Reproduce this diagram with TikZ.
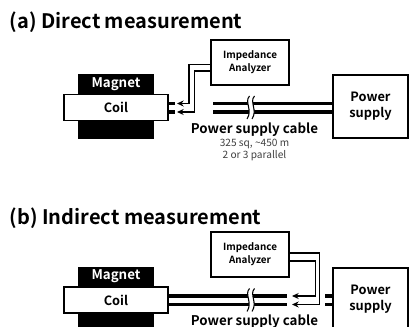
\documentclass[tikz,border=0pt]{standalone}
\usepackage{fontspec}
\setmainfont{Noto Sans CJK JP}[BoldFont={Noto Sans CJK JP Bold}]
\usetikzlibrary{arrows.meta}
\begin{document}
\begin{tikzpicture}[x=0.75pt,y=-0.75pt,
  titletext/.style={anchor=base west,inner sep=0pt,font=\fontsize{15pt}{18pt}\selectfont\bfseries},
  magnetbox/.style={fill=black,draw=none,minimum width=57pt,minimum height=48.75pt,inner sep=0pt},
  magnettext/.style={text=white,inner sep=0pt,font=\fontsize{10pt}{12pt}\selectfont\bfseries},
  coilbox/.style={draw=black,fill=white,line width=1.2pt,minimum width=78pt,minimum height=19.5pt,inner sep=0pt,font=\fontsize{9.6pt}{12pt}\selectfont\bfseries},
  analyzerbox/.style={draw=black,fill=white,line width=1.5pt,minimum width=58.5pt,minimum height=33.75pt,inner sep=0pt,align=center,font=\fontsize{7.4pt}{9.5pt}\selectfont\bfseries},
  supplybox/.style={draw=black,fill=white,line width=1.5pt,minimum width=56.25pt,minimum height=47.25pt,inner sep=0pt,align=center,font=\fontsize{9.6pt}{12pt}\selectfont\bfseries},
  cablewire/.style={line width=2.3pt,draw=black},
  signalwire/.style={line width=1pt,draw=black,-{Stealth[length=5pt,width=4.5pt]}},
  breakmark/.style={line width=0.8pt,draw=black},
  cabletext/.style={inner sep=0pt,font=\fontsize{10pt}{12pt}\selectfont\bfseries},
  spectext/.style={inner sep=0pt,align=center,text=black!75,font=\fontsize{7.6pt}{9pt}\selectfont}]
\useasboundingbox (0,0) rectangle (409,327);
\clip (0,0) rectangle (409,327);
% ---- (a)
\node[titletext] (ta) at (9.5,29) {(a) Direct measurement};
\node[magnetbox] (ma) at (116,106.5) {};
\node[magnettext] (mta) at (116,84.5) {Magnet};
\node[coilbox] (ca) at (116,107.5) {Coil};
\node[analyzerbox] (ia) at (250,62.5) {Impedance\\Analyzer};
\node[supplybox] (pa) at (370.5,106.5) {Power\\supply};
\coordinate (cu) at (ca.east |- 0,103.5);
\coordinate (cl) at (ca.east |- 0,112);
\coordinate (cuend) at (175,103.5);
\coordinate (clend) at (175,112);
\coordinate (au) at (ia.west |- 0,64.5);
\coordinate (al) at (ia.west |- 0,71);
\coordinate (atu) at (177,103.5);
\coordinate (atl) at (177,112);
\coordinate (pu) at (pa.west |- 0,103.5);
\coordinate (pl) at (pa.west |- 0,112);
\coordinate (su) at (213,103.5);
\coordinate (sl) at (213,112);
\draw[cablewire] (cu) -- (cuend);
\draw[cablewire] (cl) -- (clend);
\draw[cablewire] (su) -- (pu);
\draw[cablewire] (sl) -- (pl);
\draw[signalwire] (au) -- (189,64.5) -- (189,103.5) -- (atu);
\draw[signalwire] (al) -- (194.5,71) -- (194.5,112) -- (atl);
\fill[white] (249.5,96) .. controls (244,102) and (253,110) .. (247,119) -- (252,119) .. controls (258,110) and (249,102) .. (254.5,96) -- cycle;
\draw[breakmark] (249.5,96) .. controls (244,102) and (253,110) .. (247,119);
\draw[breakmark] (254.5,96) .. controls (249,102) and (258,110) .. (252,119);
\node[cabletext] (la) at (254.5,129.5) {Power supply cable};
\node[spectext] (sa) at (254.5,150) {325 sq, \textasciitilde450 m\\2 or 3 parallel};
% ---- (b)
\node[titletext] (tb) at (9.5,224.5) {(b) Indirect measurement};
\node[magnetbox] (mb) at (116,299.5) {};
\node[magnettext] (mtb) at (116,276.5) {Magnet};
\node[coilbox] (cb) at (116,300) {Coil};
\node[analyzerbox] (ib) at (250,254.5) {Impedance\\Analyzer};
\node[supplybox] (pb) at (370.5,299) {Power\\supply};
\coordinate (dcu) at (cb.east |- 0,296);
\coordinate (dcl) at (cb.east |- 0,304.5);
\coordinate (dcue) at (287,296);
\coordinate (dcle) at (287,304.5);
\coordinate (dpu) at (pb.west |- 0,296);
\coordinate (dpl) at (pb.west |- 0,304.5);
\coordinate (dsu) at (325,296);
\coordinate (dsl) at (325,304.5);
\coordinate (bu) at (ib.east |- 0,253);
\coordinate (bl) at (ib.east |- 0,261);
\coordinate (btu) at (292,304.5);
\coordinate (btl) at (292,296);
\draw[cablewire] (dcu) -- (dcue);
\draw[cablewire] (dcl) -- (dcle);
\draw[cablewire] (dsu) -- (dpu);
\draw[cablewire] (dsl) -- (dpl);
\draw[signalwire] (bu) -- (319.5,253) -- (319.5,304.5) -- (btu);
\draw[signalwire] (bl) -- (315.5,261) -- (315.5,296) -- (btl);
\fill[white] (249.5,288.5) .. controls (244,294.5) and (253,302.5) .. (247,311.5) -- (252,311.5) .. controls (258,302.5) and (249,294.5) .. (254.5,288.5) -- cycle;
\draw[breakmark] (249.5,288.5) .. controls (244,294.5) and (253,302.5) .. (247,311.5);
\draw[breakmark] (254.5,288.5) .. controls (249,294.5) and (258,302.5) .. (252,311.5);
\node[cabletext] (lb) at (254.5,321.5) {Power supply cable};
\end{tikzpicture}
\end{document}
